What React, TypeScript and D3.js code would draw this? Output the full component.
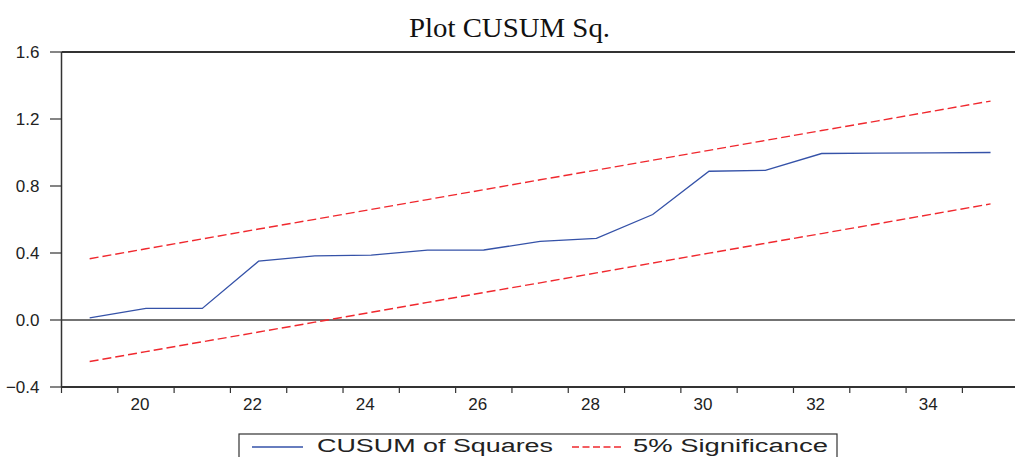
import React, { useRef, useEffect } from 'react';
import * as d3 from 'd3';

// observations 19..35
const obs = [19, 20, 21, 22, 23, 24, 25, 26, 27, 28, 29, 30, 31, 32, 33, 34, 35];
const cusumSq = [0.013, 0.069, 0.069, 0.351, 0.383, 0.387, 0.417, 0.418, 0.469, 0.487, 0.630, 0.888, 0.893, 0.994, 0.996, 0.998, 1.0];
const upper = [0.366, 0.425, 0.484, 0.543, 0.601, 0.660, 0.719, 0.778, 0.837, 0.895, 0.954, 1.013, 1.072, 1.131, 1.189, 1.248, 1.307];
const lower = [-0.248, -0.189, -0.130, -0.072, -0.013, 0.046, 0.105, 0.164, 0.222, 0.281, 0.340, 0.399, 0.458, 0.516, 0.575, 0.634, 0.693];
const yTicks = [-0.4, 0.0, 0.4, 0.8, 1.2, 1.6];
const xLabels = [20, 22, 24, 26, 28, 30, 32, 34];

const CusumChart: React.FC = () => {
    const svgRef = useRef<SVGSVGElement | null>(null);

    useEffect(() => {
        if (!svgRef.current) return;
        const width = 1015;
        const height = 457;
        const left = 61.5;
        const top = 52;
        const bottom = 387;

        const svg = d3.select(svgRef.current);
        svg.selectAll('*').remove();
        svg.attr('width', width).attr('height', height);

        const x = d3.scaleLinear().domain([18.5, 35.5]).range([left, 1018.7]);
        const y = d3.scaleLinear().domain([-0.4, 1.6]).range([bottom, top]);

        const axisColor = '#333';
        const sans = "'Liberation Sans', Arial, sans-serif";

        // title
        svg.append('text')
            .attr('x', 409).attr('y', 36.5)
            .attr('font-family', "'Liberation Serif', 'Times New Roman', serif")
            .attr('font-size', 28)
            .attr('textLength', 201)
            .attr('lengthAdjust', 'spacingAndGlyphs')
            .attr('fill', '#111')
            .text('Plot CUSUM Sq.');

        // frame: top, left, bottom
        svg.append('line').attr('x1', left).attr('x2', width).attr('y1', top).attr('y2', top)
            .attr('stroke', axisColor).attr('stroke-width', 1.8);
        svg.append('line').attr('x1', left).attr('x2', left).attr('y1', top).attr('y2', bottom)
            .attr('stroke', axisColor).attr('stroke-width', 1.5);
        svg.append('line').attr('x1', left).attr('x2', width).attr('y1', bottom).attr('y2', bottom)
            .attr('stroke', axisColor).attr('stroke-width', 1.8);

        // zero line
        svg.append('line').attr('x1', left).attr('x2', width).attr('y1', y(0)).attr('y2', y(0))
            .attr('stroke', '#444').attr('stroke-width', 1.5);

        // y ticks
        const yg = svg.append('g');
        yTicks.forEach(t => {
            yg.append('line').attr('x1', 50).attr('x2', left).attr('y1', y(t)).attr('y2', y(t))
                .attr('stroke', axisColor).attr('stroke-width', 1.2);
            yg.append('text')
                .attr('x', 39.5).attr('y', y(t)).attr('dy', '0.36em')
                .attr('text-anchor', 'end')
                .attr('font-family', sans).attr('font-size', 17)
                .attr('fill', '#222')
                .text(d3.format('.1f')(t));
        });

        // x ticks at interval boundaries
        const xg = svg.append('g');
        d3.range(18.5, 36, 1).forEach(t => {
            xg.append('line').attr('x1', x(t)).attr('x2', x(t)).attr('y1', bottom).attr('y2', bottom + 6)
                .attr('stroke', axisColor).attr('stroke-width', 1.2);
        });
        xLabels.forEach(v => {
            xg.append('text')
                .attr('x', x(v) - 6).attr('y', 409.5)
                .attr('text-anchor', 'middle')
                .attr('font-family', sans).attr('font-size', 17)
                .attr('fill', '#222')
                .text(v);
        });

        const line = d3.line<number>()
            .x((_, i) => x(obs[i]))
            .y(d => y(d));

        [upper, lower].forEach(s => {
            svg.append('path').datum(s)
                .attr('d', line)
                .attr('fill', 'none')
                .attr('stroke', '#f0282e')
                .attr('stroke-width', 1.4)
                .attr('stroke-dasharray', '9,4');
        });

        svg.append('path').datum(cusumSq)
            .attr('d', line)
            .attr('fill', 'none')
            .attr('stroke', '#3552a8')
            .attr('stroke-width', 1.3);

        // legend
        const lg = svg.append('g');
        lg.append('rect').attr('x', 239).attr('y', 434).attr('width', 598).attr('height', 40)
            .attr('fill', 'white').attr('stroke', '#333').attr('stroke-width', 1.2);
        lg.append('line').attr('x1', 252).attr('x2', 303).attr('y1', 447).attr('y2', 447)
            .attr('stroke', '#3552a8').attr('stroke-width', 1.3);
        lg.append('text').attr('x', 317).attr('y', 452)
            .attr('font-family', sans).attr('font-size', 18)
            .attr('textLength', 236).attr('lengthAdjust', 'spacingAndGlyphs')
            .attr('fill', '#222')
            .text('CUSUM of Squares');
        lg.append('line').attr('x1', 572).attr('x2', 623).attr('y1', 447).attr('y2', 447)
            .attr('stroke', '#f0282e').attr('stroke-width', 1.4).attr('stroke-dasharray', '7,3.5');
        lg.append('text').attr('x', 633).attr('y', 452)
            .attr('font-family', sans).attr('font-size', 18)
            .attr('textLength', 195).attr('lengthAdjust', 'spacingAndGlyphs')
            .attr('fill', '#222')
            .text('5% Significance');
    }, []);

    return <svg ref={svgRef} width="1015" height="457" style={{ display: 'block' }} />;
};

export default function App() {
    return (
        <div style={{ position: 'absolute', left: 0, top: 0, background: 'white' }}>
            <CusumChart />
        </div>
    );
}
